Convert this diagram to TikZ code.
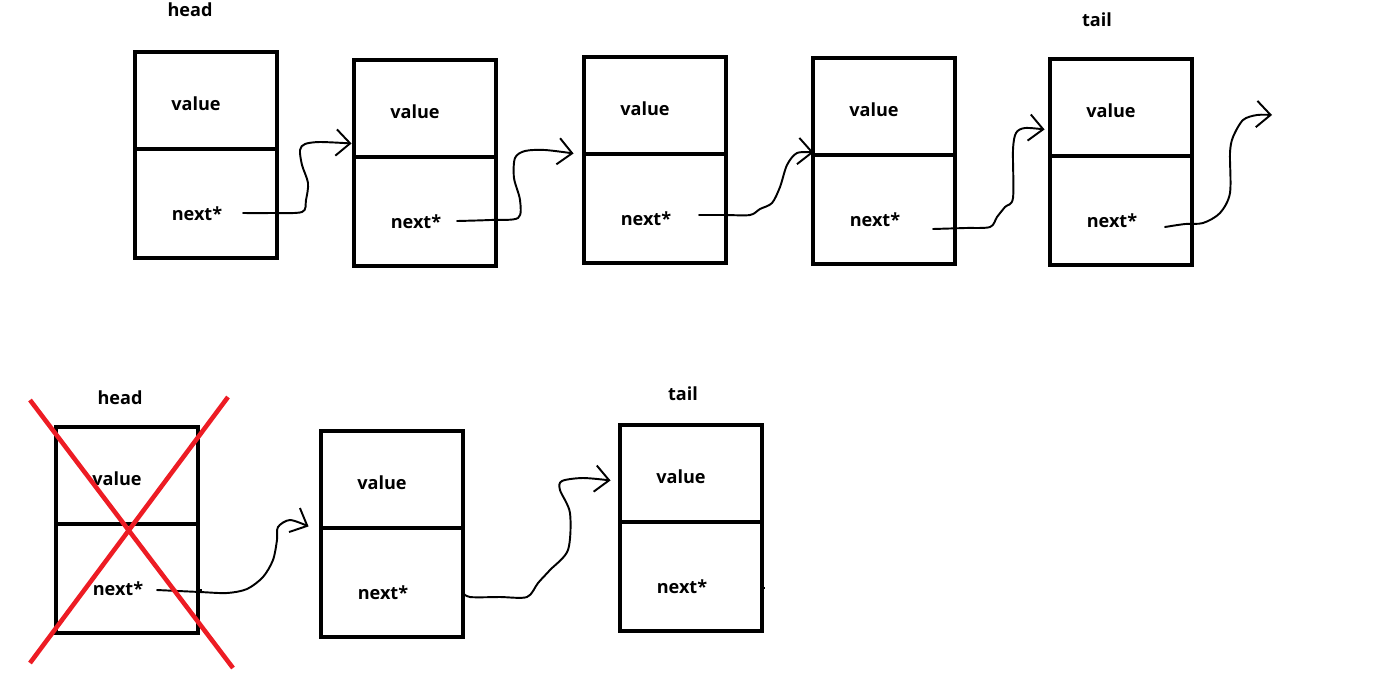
\documentclass[tikz,border=0pt]{standalone}
\usepackage{fontspec}
\setsansfont{Open Sans}
\usetikzlibrary{arrows.meta,calc}
\definecolor{penred}{RGB}{237,28,36}

\begin{document}
\begin{tikzpicture}[x=0.02cm,y=-0.02cm,
        cell/.style={draw,line width=2.8pt,minimum width=2.84cm,inner sep=0pt},
        valcell/.style={cell,minimum height=1.94cm},
        nextcell/.style={cell,minimum height=2.18cm},
        lbl/.style={font=\sffamily\bfseries\fontsize{10.3}{12}\selectfont},
        link/.style={line width=1.1pt,line cap=round,line join=round,
            -{Straight Barb[length=8pt,width=15pt]},smooth,tension=0.5},
        cross/.style={penred,line width=2.6pt}]
        \useasboundingbox (0,0) rectangle (1393,681);

        % upper list
        \node[lbl](h1)at(190,10){head};
        \node[lbl](t1)at(1097,20){tail};

        \node[valcell](v1)at(206,100.5){};
        \node[nextcell](n1)at(206,203.5){};
        \node[lbl](tv1)at(196,104){value};
        \node[lbl](tn1)at(197,214){next*};

        \node[valcell](v2)at(425,108.5){};
        \node[nextcell](n2)at(425,211.5){};
        \node[lbl](tv2)at(415,112){value};
        \node[lbl](tn2)at(416,222){next*};

        \node[valcell](v3)at(655,105.5){};
        \node[nextcell](n3)at(655,208.5){};
        \node[lbl](tv3)at(645,109){value};
        \node[lbl](tn3)at(646,219){next*};

        \node[valcell](v4)at(884,106.5){};
        \node[nextcell](n4)at(884,209.5){};
        \node[lbl](tv4)at(874,110){value};
        \node[lbl](tn4)at(875,220){next*};

        \node[valcell](v5)at(1121,107.5){};
        \node[nextcell](n5)at(1121,210.5){};
        \node[lbl](tv5)at(1111,111){value};
        \node[lbl](tn5)at(1112,221){next*};

        \coordinate(s1)at(243,213);
        \coordinate(s2)at(457,221);
        \coordinate(s3)at(699,215);
        \coordinate(s4)at(933,229);
        \coordinate(s5)at(1165,227);
        \coordinate(e2)at($(v2.south west)+(0,-16)$);
        \coordinate(e3)at($(v3.south west)+(-8,-3)$);
        \coordinate(e4)at($(v4.south west)+(3,-5)$);
        \coordinate(e5)at($(v5.south west)+(-3,-29)$);
        \coordinate(end5)at(1272,115);

        \draw[link]plot coordinates{(s1)(270,213)(302,212)(306,200)(308,183)(302,165)(300,150)(305,144)(320,142)(e2)};
        \draw[link]plot coordinates{(s2)(490,220)(518,218)(520,200)(514,178)(515,158)(525,151)(545,150)(e3)};
        \draw[link]plot coordinates{(s3)(725,215)(750,215)(760,209)(772,203)(780,187)(787,165)(797,153)(e4)};
        \draw[link]plot coordinates{(s4)(965,228)(990,227)(997,217)(1005,207)(1013,198)(1013,150)(1016,133)(1025,128)(e5)};
        \draw[link]plot coordinates{(s5)(1185,224)(1203,223)(1220,213)(1230,193)(1230,153)(1233,137)(1243,120)(1257,115)(end5)};

        % lower list
        \node[lbl](h2)at(120,398){head};
        \node[lbl](t2)at(683,394){tail};

        \node[valcell](v6)at(127,475.5){};
        \node[nextcell](n6)at(127,578.5){};
        \node[lbl](tv6)at(117,479){value};
        \node[lbl](tn6)at(118,589){next*};

        \node[valcell](v7)at(392,479.5){};
        \node[nextcell](n7)at(392,582.5){};
        \node[lbl](tv7)at(382,483){value};
        \node[lbl](tn7)at(383,593){next*};

        \node[valcell](v8)at(691,473.5){};
        \node[nextcell](n8)at(691,576.5){};
        \node[lbl](tv8)at(681,477){value};
        \node[lbl](tn8)at(682,587){next*};

        \coordinate(s6)at(157,590);
        \coordinate(s7)at(462,592);
        \coordinate(e7)at($(v7.south west)+(-10,-4)$);
        \coordinate(e8)at($(v8.south west)+(-7,-44)$);

        \draw[link]plot coordinates{(s6)(200,592)(227,593)(247,589)(263,577)(273,560)(277,540)(278,527)(290,520)(e7)};
        \draw[link]plot coordinates{(s7)(470,597)(500,597)(527,597)(538,583)(550,570)(568,550)(570,513)(560,490)(562,481)(583,478)(e8)};
        \draw[line width=1.1pt](196,590)--(202,590);
        \draw[line width=1.1pt](760,588)--(765,588);

        \draw[cross](30,400)--(233,668);
        \draw[cross](228,397)--(30,663);
    \end{tikzpicture}
\end{document}
